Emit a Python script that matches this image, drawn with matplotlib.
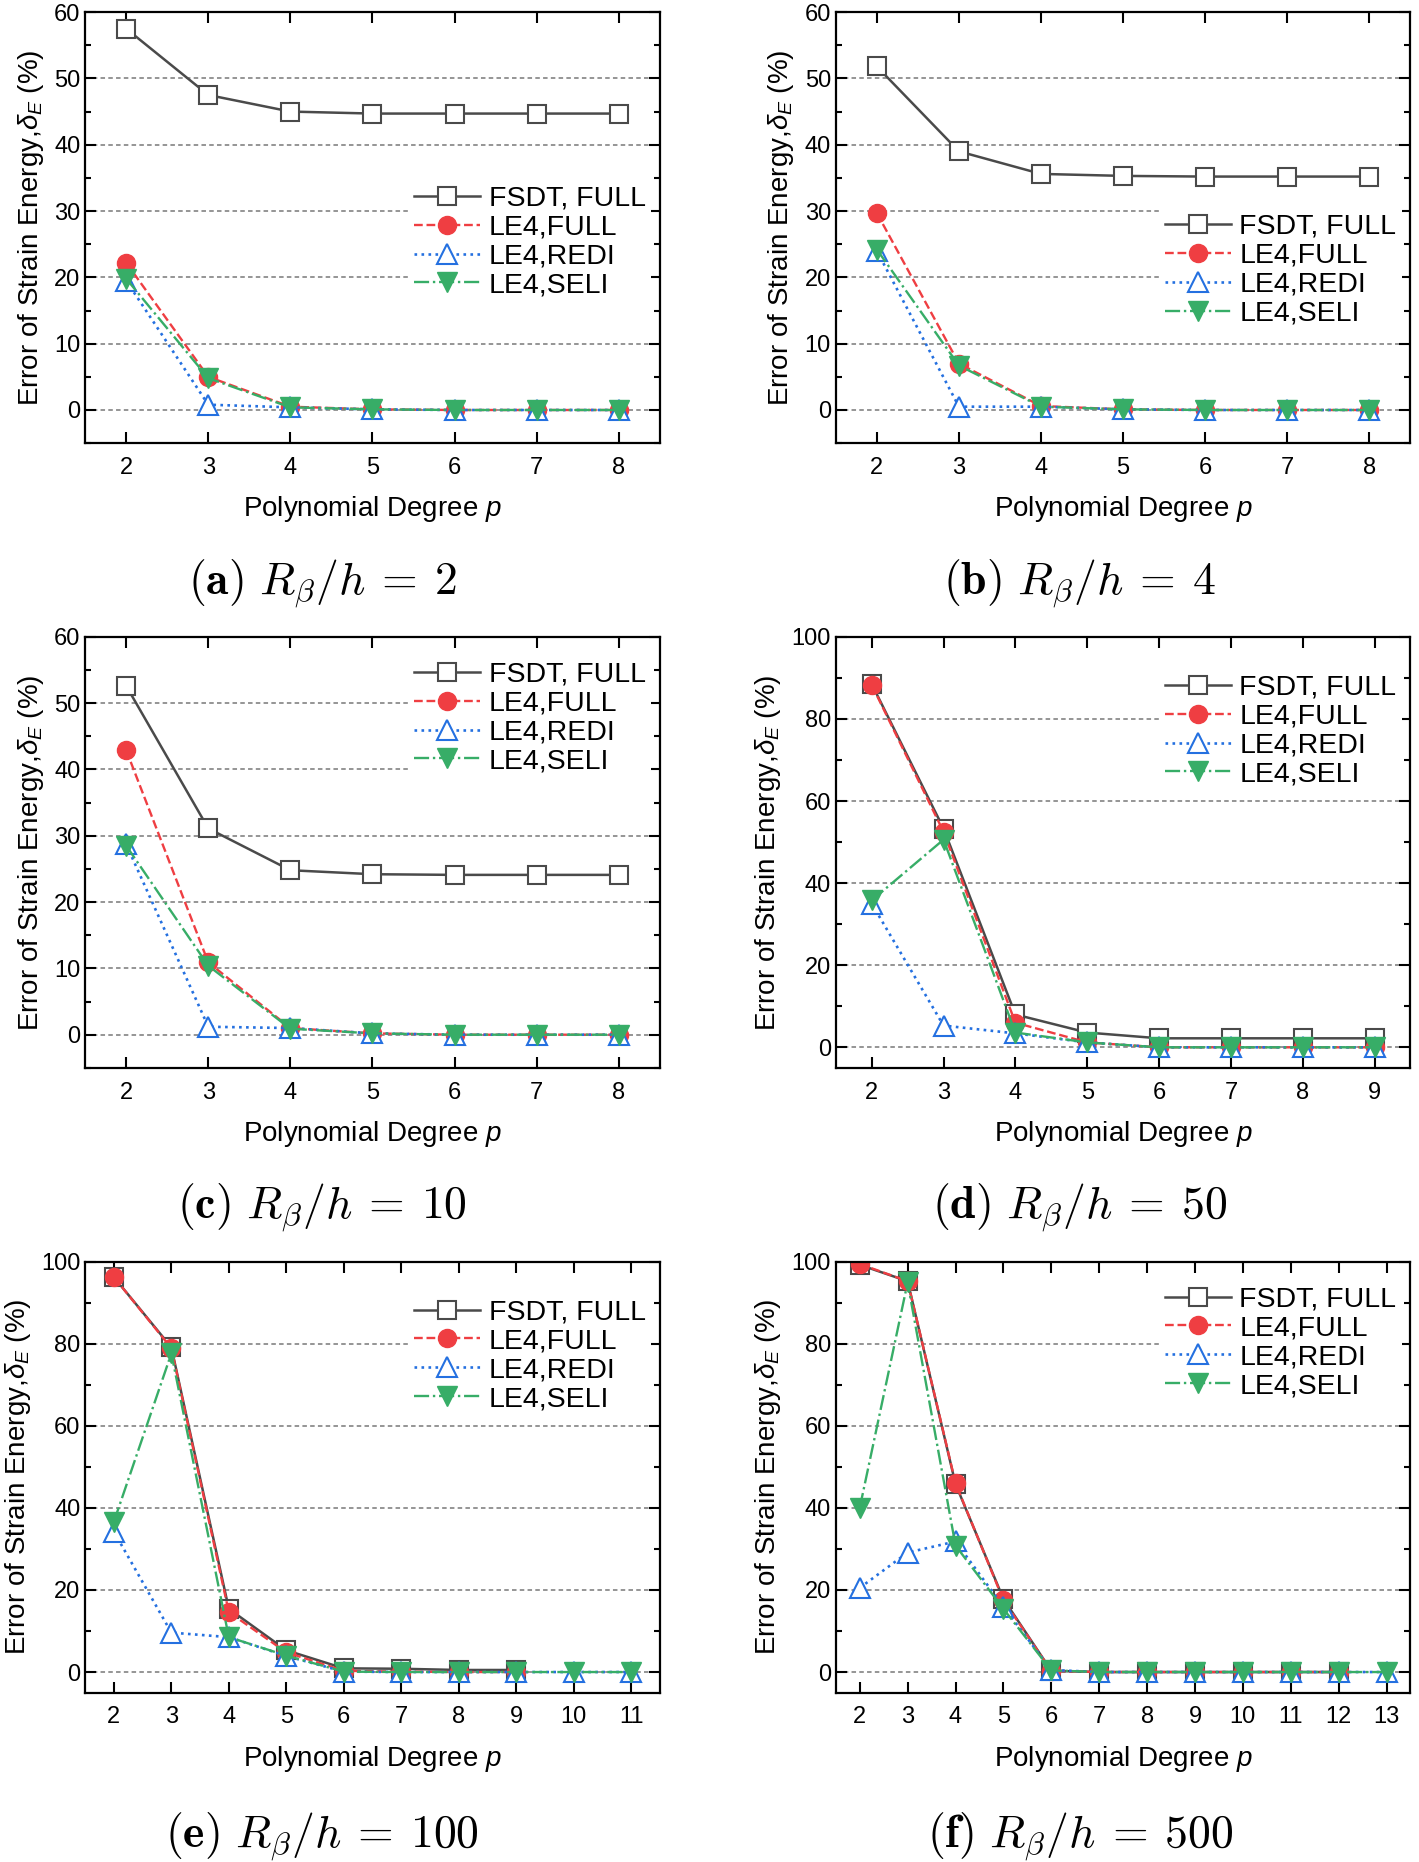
import numpy as np
import matplotlib.pyplot as plt
from matplotlib.ticker import MultipleLocator

plt.rcParams['font.family'] = ['Liberation Sans', 'DejaVu Sans']
plt.rcParams['mathtext.fontset'] = 'custom'
plt.rcParams['mathtext.rm'] = 'Liberation Sans'
plt.rcParams['mathtext.it'] = 'Liberation Sans:italic'
plt.rcParams['mathtext.bf'] = 'Liberation Sans:bold'

# p values and curves for each panel (%)
p_a = [2, 3, 4, 5, 6, 7, 8]
fsdt_a = [57.5, 47.5, 45.0, 44.7, 44.7, 44.7, 44.7]
full_a = [22.2, 5.0, 0.5, 0.1, 0.0, 0.0, 0.0]
redi_a = [19.5, 0.8, 0.4, 0.1, 0.0, 0.0, 0.0]
seli_a = [19.8, 4.8, 0.4, 0.1, 0.0, 0.0, 0.0]

p_b = [2, 3, 4, 5, 6, 7, 8]
fsdt_b = [51.8, 39.0, 35.6, 35.3, 35.2, 35.2, 35.2]
full_b = [29.7, 7.0, 0.6, 0.1, 0.0, 0.0, 0.0]
redi_b = [24.0, 0.5, 0.5, 0.1, 0.0, 0.0, 0.0]
seli_b = [24.2, 6.7, 0.5, 0.1, 0.0, 0.0, 0.0]

p_c = [2, 3, 4, 5, 6, 7, 8]
fsdt_c = [52.6, 31.1, 24.8, 24.2, 24.1, 24.1, 24.1]
full_c = [42.9, 10.9, 1.0, 0.2, 0.0, 0.0, 0.0]
redi_c = [28.7, 1.2, 1.0, 0.2, 0.0, 0.0, 0.0]
seli_c = [28.5, 10.4, 0.9, 0.2, 0.0, 0.0, 0.0]

p_d = [2, 3, 4, 5, 6, 7, 8, 9]
fsdt_d = [88.5, 53.3, 8.0, 3.6, 2.2, 2.2, 2.2, 2.2]
full_d = [88.3, 52.5, 6.0, 1.2, 0.0, 0.0, 0.0, 0.0]
redi_d = [35.0, 5.3, 3.4, 1.2, 0.0, 0.0, 0.0, 0.0]
seli_d = [35.8, 50.6, 3.6, 1.2, 0.0, 0.0, 0.0, 0.0]

p_e = [2, 3, 4, 5, 6, 7, 8, 9, 10, 11]
fsdt_e = [96.2, 79.1, 15.4, 5.3, 0.9, 0.8, 0.5, 0.5]
full_e = [96.2, 78.9, 14.6, 4.8, 0.3, 0.1, 0.0, 0.0]
redi_e = [34.2, 9.6, 8.5, 3.9, 0.1, 0.0, 0.0, 0.0, 0.0, 0.0]
seli_e = [36.6, 77.6, 8.5, 4.0, 0.1, 0.0, 0.0, 0.0, 0.0, 0.0]

p_f = [2, 3, 4, 5, 6, 7, 8, 9, 10, 11, 12, 13]
fsdt_f = [99.2, 95.2, 45.8, 17.8, 0.3, 0.0, 0.0, 0.0, 0.0, 0.0, 0.0]
full_f = [99.4, 95.2, 46.0, 17.5, 0.3, 0.0, 0.0, 0.0, 0.0, 0.0, 0.0]
redi_f = [20.5, 29.1, 31.8, 15.9, 0.5, 0.0, 0.0, 0.0, 0.0, 0.0, 0.0, 0.0]
seli_f = [40.0, 94.9, 30.8, 15.4, 0.4, 0.0, 0.0, 0.0, 0.0, 0.0, 0.0, 0.0]

captions = [r'$\mathbf{(a)}\ R_\beta/h\:=\:2$', r'$\mathbf{(b)}\ R_\beta/h\:=\:4$',
            r'$\mathbf{(c)}\ R_\beta/h\:=\:10$', r'$\mathbf{(d)}\ R_\beta/h\:=\:50$',
            r'$\mathbf{(e)}\ R_\beta/h\:=\:100$', r'$\mathbf{(f)}\ R_\beta/h\:=\:500$']

panels = [
    (p_a, fsdt_a, full_a, redi_a, seli_a, 60, 0.61),
    (p_b, fsdt_b, full_b, redi_b, seli_b, 60, 0.545),
    (p_c, fsdt_c, full_c, redi_c, seli_c, 60, 0.955),
    (p_d, fsdt_d, full_d, redi_d, seli_d, 100, 0.925),
    (p_e, fsdt_e, full_e, redi_e, seli_e, 100, 0.925),
    (p_f, fsdt_f, full_f, redi_f, seli_f, 100, 0.955),
]

gray = '#4a4a4a'
red = '#ef3e42'
blue = '#2470e0'
green = '#37ad67'

fig = plt.figure(figsize=(14.19, 18.62), dpi=100)

lefts = [0.060, 0.589]
w = 0.405
bottoms = [0.762, 0.4265, 0.091]
h = 0.2315
cap_x = [0.227, 0.761]
cap_y = [0.686, 0.351, 0.013]

for i, (p, fsdt, full, redi, seli, ymax, ltop) in enumerate(panels):
    r, c = divmod(i, 2)
    ax = fig.add_axes([lefts[c], bottoms[r], w, h])
    ax.set_axisbelow(True)
    ax.plot(p[:len(fsdt)], fsdt, '-', color=gray, lw=1.8, marker='s', ms=13,
            mfc='white', mec=gray, mew=1.5, label='FSDT, FULL')
    ax.plot(p[:len(full)], full, '--', color=red, lw=1.7, marker='o', ms=13,
            mfc=red, mec=red, label='LE4,FULL')
    ax.plot(p, redi, ':', color=blue, lw=1.9, marker='^', ms=14,
            mfc='white', mec=blue, mew=1.5, label='LE4,REDI')
    ax.plot(p, seli, '-.', color=green, lw=1.7, marker='v', ms=14,
            mfc=green, mec=green, label='LE4,SELI')

    ax.set_xlim(p[0] - 0.5, p[-1] + 0.5)
    ax.set_xticks(p)
    ax.set_ylim(-5, ymax)
    step = 10 if ymax == 60 else 20
    ax.set_yticks(np.arange(0, ymax + 1, step))
    ax.yaxis.set_minor_locator(MultipleLocator(step / 2))
    ax.tick_params(which='both', direction='in', top=True, right=True,
                   labelsize=17, width=1.5)
    ax.tick_params(which='major', length=8)
    ax.tick_params(which='minor', length=4.5)
    ax.tick_params(axis='x', pad=10)
    for s in ax.spines.values():
        s.set_linewidth(1.6)
    ax.grid(axis='y', which='major', color='#8c8c8c', lw=1.3,
            linestyle=(0, (2.5, 1.8)))

    ax.set_xlabel('Polynomial Degree $p$', fontsize=20, labelpad=11)
    ax.set_ylabel(r'Error of Strain Energy,$\delta_E$ (%)', fontsize=20,
                  labelpad=6)

    ax.legend(loc='upper right', bbox_to_anchor=(0.985, ltop),
              fontsize=20.5, frameon=True, fancybox=False,
              edgecolor='none', facecolor='white', framealpha=1,
              handlelength=2.3, handletextpad=0.3, labelspacing=0.1,
              borderpad=0.2, borderaxespad=0)

    fig.text(cap_x[c], cap_y[r], captions[i], ha='center', va='center',
             fontsize=33, math_fontfamily='cm')

fig.savefig('out.png', dpi=100)
